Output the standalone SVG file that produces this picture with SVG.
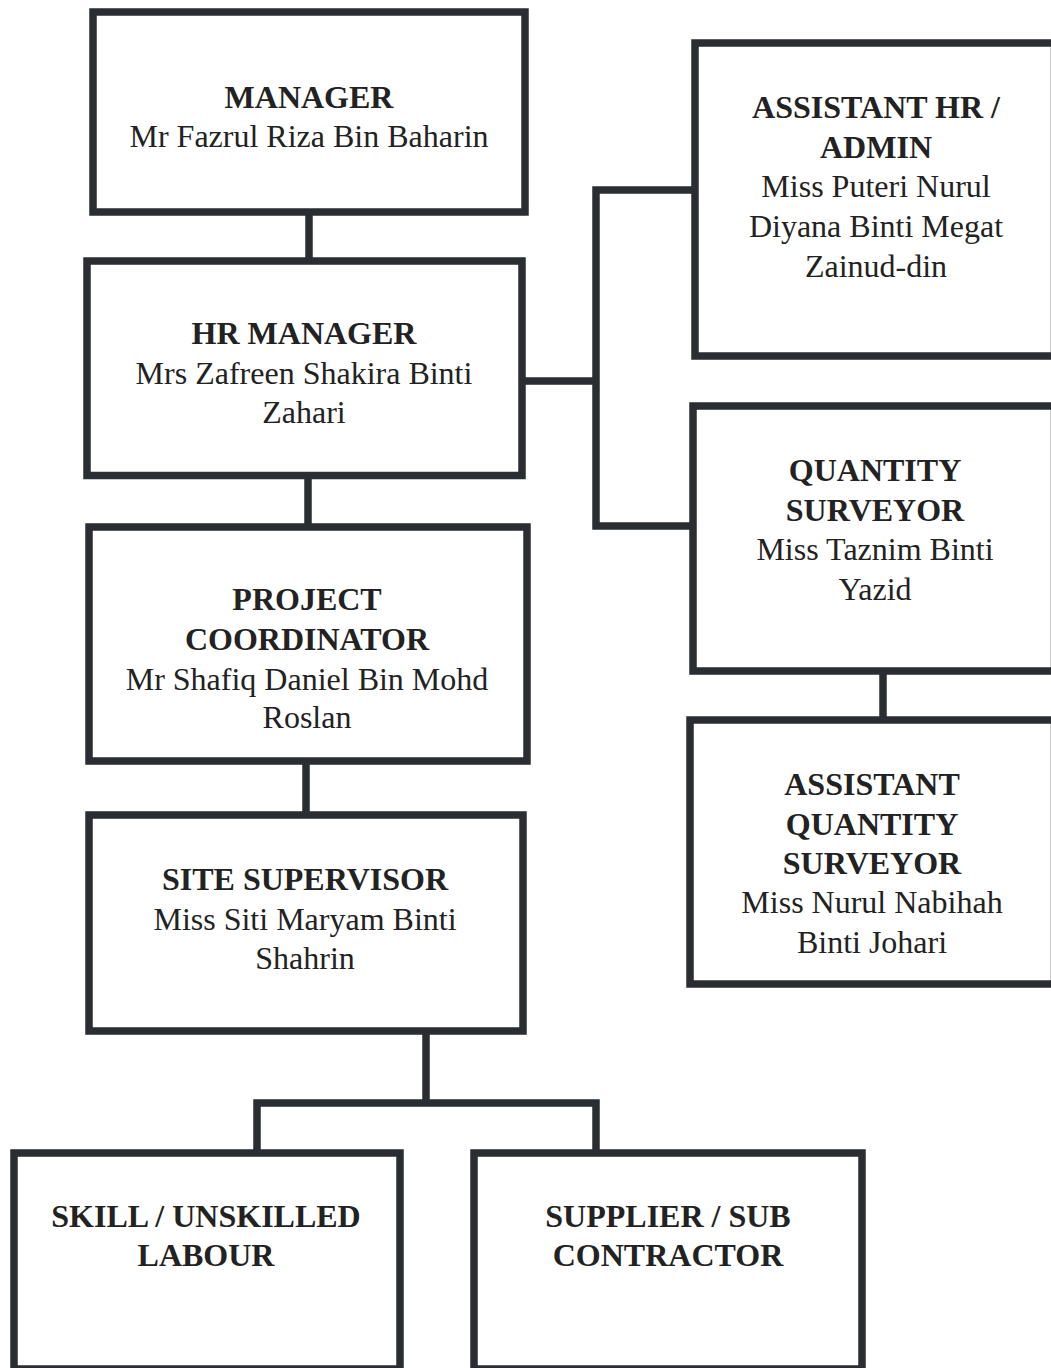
<svg xmlns="http://www.w3.org/2000/svg" width="1051" height="1368" viewBox="0 0 1051 1368">
<style>
.box{fill:#fff;stroke:#2a2e32;stroke-width:7.5}
.con{fill:none;stroke:#2a2e32;stroke-width:7.5;stroke-linejoin:miter;stroke-linecap:square}
text{font-family:"Liberation Serif","Times New Roman",serif;font-size:32px;fill:#222;text-anchor:middle}
.t{font-weight:bold}
</style>
<rect width="1051" height="1368" fill="#fff"/>
<g id="connectors">
<path class="con" d="M309 212V261"/>
<path class="con" d="M308 475V527"/>
<path class="con" d="M306 761V815"/>
<path class="con" d="M522 381H596M695 190H596V526H693"/>
<path class="con" d="M883 671V720"/>
<path class="con" d="M426 1031V1103M257 1153V1103H596V1153"/>
</g>
<g id="manager">
<rect class="box" x="93" y="12" width="432" height="200"/>
<text x="309" y="108" class="t">MANAGER</text>
<text x="309" y="147">Mr Fazrul Riza Bin Baharin</text>
</g>
<g id="hr-manager">
<rect class="box" x="87" y="261" width="435" height="214.5"/>
<text x="304" y="344" class="t">HR MANAGER</text>
<text x="304" y="384">Mrs Zafreen Shakira Binti</text>
<text x="304" y="423">Zahari</text>
</g>
<g id="project-coordinator">
<rect class="box" x="89" y="527" width="438" height="234"/>
<text x="307" y="610" class="t">PROJECT</text>
<text x="307" y="650" class="t">COORDINATOR</text>
<text x="307" y="690">Mr Shafiq Daniel Bin Mohd</text>
<text x="307" y="728">Roslan</text>
</g>
<g id="site-supervisor">
<rect class="box" x="89" y="815" width="434" height="216"/>
<text x="305" y="890" class="t">SITE SUPERVISOR</text>
<text x="305" y="930">Miss Siti Maryam Binti</text>
<text x="305" y="969">Shahrin</text>
</g>
<g id="assistant-hr">
<rect class="box" x="695" y="43" width="359.5" height="313"/>
<text x="876" y="118" class="t">ASSISTANT HR /</text>
<text x="876" y="158" class="t">ADMIN</text>
<text x="876" y="197">Miss Puteri Nurul</text>
<text x="876" y="237">Diyana Binti Megat</text>
<text x="876" y="277">Zainud-din</text>
</g>
<g id="quantity-surveyor">
<rect class="box" x="693" y="406" width="361.5" height="265"/>
<text x="875" y="481" class="t">QUANTITY</text>
<text x="875" y="521" class="t">SURVEYOR</text>
<text x="875" y="560">Miss Taznim Binti</text>
<text x="875" y="600">Yazid</text>
</g>
<g id="assistant-qs">
<rect class="box" x="690" y="720" width="364.5" height="264"/>
<text x="872" y="795" class="t">ASSISTANT</text>
<text x="872" y="835" class="t">QUANTITY</text>
<text x="872" y="874" class="t">SURVEYOR</text>
<text x="872" y="913">Miss Nurul Nabihah</text>
<text x="872" y="953">Binti Johari</text>
</g>
<g id="labour">
<rect class="box" x="14" y="1153" width="386" height="216"/>
<text x="206" y="1227" class="t">SKILL / UNSKILLED</text>
<text x="206" y="1266" class="t">LABOUR</text>
</g>
<g id="supplier">
<rect class="box" x="474" y="1153" width="388" height="216"/>
<text x="668" y="1227" class="t">SUPPLIER / SUB</text>
<text x="668" y="1266" class="t">CONTRACTOR</text>
</g>
</svg>
